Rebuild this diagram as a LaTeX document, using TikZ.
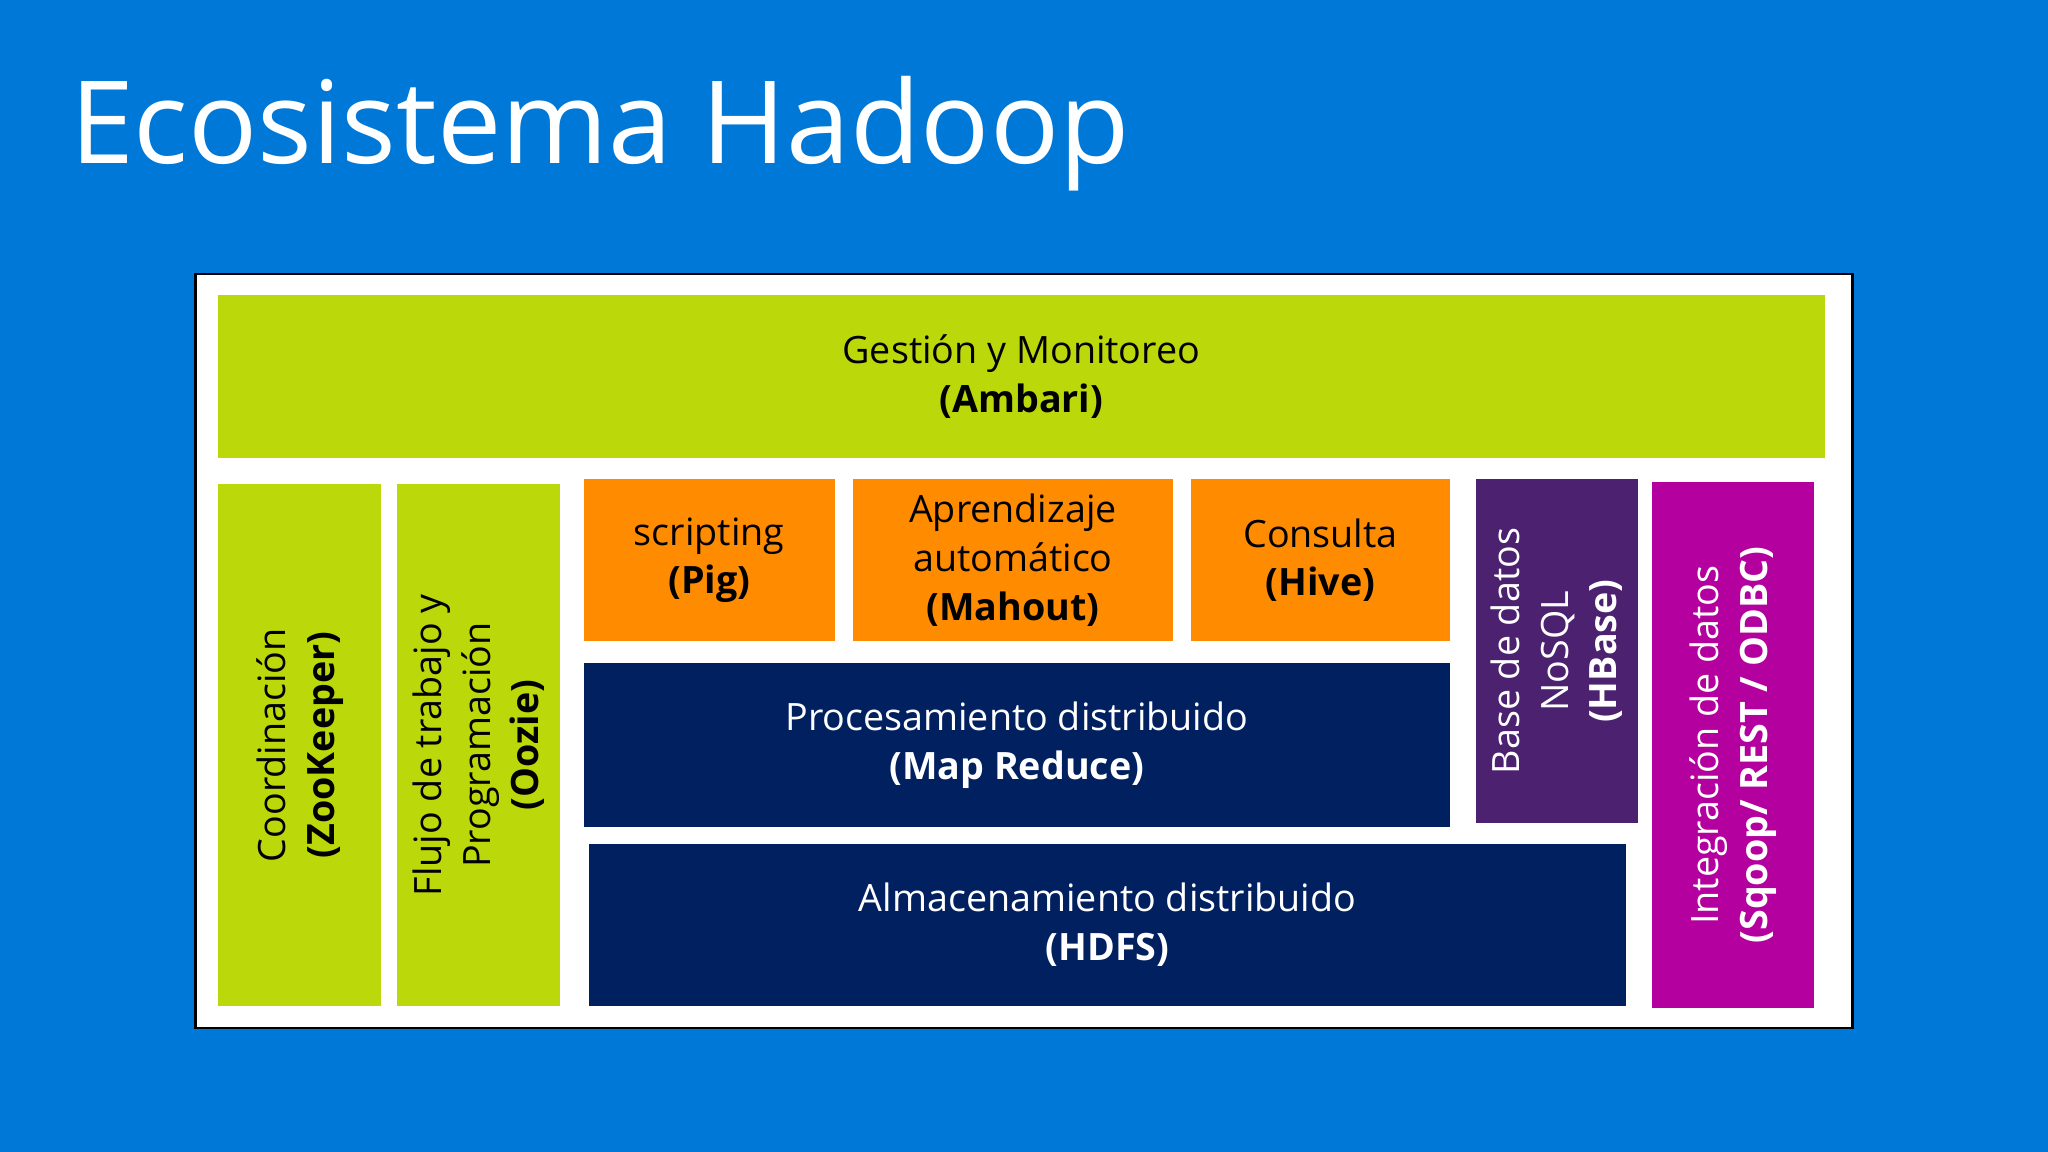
\documentclass[tikz,border=0pt]{standalone}
\usepackage{fontspec}
\setmainfont{Open Sans}
\definecolor{bg}{HTML}{0078D7}
\definecolor{lime}{HTML}{BAD80A}
\definecolor{orng}{HTML}{FF8C00}
\definecolor{navy}{HTML}{002060}
\definecolor{purp}{HTML}{4B2170}
\definecolor{mag}{HTML}{B4009E}
\begin{document}
\begin{tikzpicture}[x=0.01cm,y=0.01cm,
  blk/.style={inner sep=0pt,outer sep=0pt,draw=none},
  txt/.style={align=center,font=\fontsize{8.2}{10.6}\selectfont,inner sep=0pt}]
\fill[bg] (0,0) rectangle (1568,882);
\useasboundingbox (0,0) rectangle (1568,882);
\node[anchor=base west,text=white,inner sep=0pt,font=\fontsize{25}{30}\selectfont] (title) at (53,757) {Ecosistema Hadoop};
\node[blk,fill=white,draw=black,line width=0.6pt,minimum width=12.68cm,minimum height=5.77cm] (frame) at (784,383.5) {};
\node[blk,fill=lime,minimum width=12.3cm,minimum height=1.25cm,txt] (amb) at (782,593.5) {Gestión y Monitoreo\\\textbf{(Ambari)}};
\node[blk,fill=lime,minimum width=1.25cm,minimum height=3.99cm] (zk) at (229.5,311.5) {};
\node[txt,rotate=90] (zkt) at (zk) {Coordinación\\\textbf{(ZooKeeper)}};
\node[blk,fill=lime,minimum width=1.25cm,minimum height=3.99cm] (oz) at (366.5,311.5) {};
\node[txt,rotate=90] (ozt) at (oz) {Flujo de trabajo y\\Programación\\\textbf{(Oozie)}};
\node[blk,fill=orng,minimum width=1.92cm,minimum height=1.24cm,txt] (pig) at (543,453) {scripting\\\textbf{(Pig)}};
\node[blk,fill=orng,minimum width=2.45cm,minimum height=1.24cm,txt] (mah) at (775.5,453) {Aprendizaje\\automático\\\textbf{(Mahout)}};
\node[blk,fill=orng,minimum width=1.98cm,minimum height=1.24cm,txt] (hive) at (1011,453) {Consulta\\\textbf{(Hive)}};
\node[blk,fill=navy,text=white,minimum width=6.63cm,minimum height=1.25cm,txt] (mr) at (778.5,311.5) {Procesamiento distribuido\\\textbf{(Map Reduce)}};
\node[blk,fill=navy,text=white,minimum width=7.94cm,minimum height=1.24cm,txt] (hdfs) at (848,174) {Almacenamiento distribuido\\\textbf{(HDFS)}};
\node[blk,fill=purp,minimum width=1.24cm,minimum height=2.63cm] (hb) at (1192,383.5) {};
\node[txt,rotate=90,text=white] (hbt) at (hb) {Base de datos\\NoSQL\\\textbf{(HBase)}};
\node[blk,fill=mag,minimum width=1.24cm,minimum height=4.03cm] (int) at (1327,311.5) {};
\node[txt,rotate=90,text=white] (intt) at (int) {Integración de datos\\\textbf{(Sqoop/ REST / ODBC)}};
\end{tikzpicture}
\end{document}
